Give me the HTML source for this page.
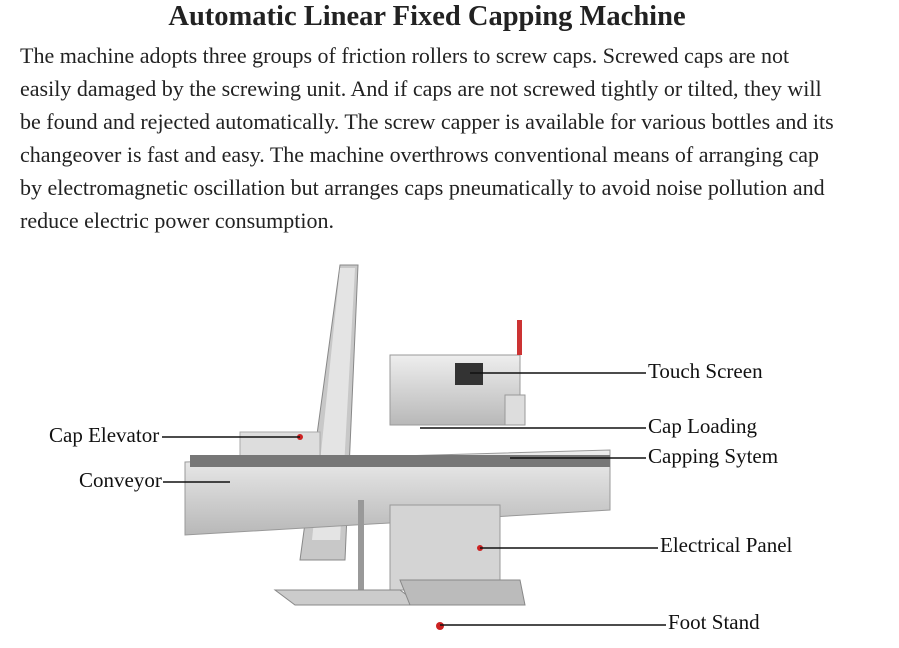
<!DOCTYPE html>
<html><head><meta charset="utf-8"><style>
body{margin:0;width:899px;height:648px;background:#fff;font-family:"Liberation Serif",serif;overflow:hidden;position:relative}
h1{position:absolute;top:0px;left:0;width:854px;text-align:center;margin:0;font-size:28.5px;font-weight:bold;color:#222;line-height:34px}
p{position:absolute;top:39px;left:20px;width:880px;margin:0;font-size:22px;letter-spacing:0;line-height:33px;color:#222;white-space:nowrap}
svg{position:absolute;left:0;top:0}
.l{font-family:"Liberation Serif",serif;font-size:21px;fill:#111}
</style></head><body>
<h1>Automatic Linear Fixed Capping Machine</h1>
<p>The machine adopts three groups of friction rollers to screw caps. Screwed caps are not<br>easily damaged by the screwing unit. And if caps are not screwed tightly or tilted, they will<br>be found and rejected automatically. The screw capper is available for various bottles and its<br>changeover is fast and easy. The machine overthrows conventional means of arranging cap<br>by electromagnetic oscillation but arranges caps pneumatically to avoid noise pollution and<br>reduce electric power consumption.</p>
<svg width="899" height="648">
<defs><linearGradient id="g" x1="0" x2="0" y1="0" y2="1"><stop offset="0" stop-color="#eee"/><stop offset="1" stop-color="#b8b8b8"/></linearGradient></defs>
<polygon points="340,265 358,265 345,560 300,560" fill="#c8c8c8" stroke="#888"/>
<polygon points="340,268 355,268 340,540 312,540" fill="#e4e4e4"/>
<rect x="390" y="355" width="130" height="70" fill="url(#g)" stroke="#999"/>
<rect x="455" y="363" width="28" height="22" fill="#333"/>
<rect x="517" y="320" width="5" height="35" fill="#c33"/>
<rect x="505" y="395" width="20" height="30" fill="#ddd" stroke="#999"/>
<rect x="240" y="432" width="80" height="30" fill="#ddd" stroke="#aaa"/>
<polygon points="185,462 610,450 610,510 185,535" fill="url(#g)" stroke="#999"/>
<rect x="190" y="455" width="420" height="12" fill="#777"/>
<rect x="390" y="505" width="110" height="85" fill="#d4d4d4" stroke="#999"/>
<rect x="358" y="500" width="6" height="100" fill="#999"/>
<polygon points="275,590 400,590 420,605 295,605" fill="#ccc" stroke="#888"/>
<polygon points="400,580 520,580 525,605 410,605" fill="#bbb" stroke="#888"/>
<circle cx="440" cy="626" r="4" fill="#c22"/>
<circle cx="480" cy="548" r="3" fill="#c22"/>
<circle cx="300" cy="437" r="3" fill="#c22"/>
<g stroke="#111" stroke-width="1.6">
<line x1="470" y1="373" x2="646" y2="373"/>
<line x1="420" y1="428" x2="646" y2="428"/>
<line x1="510" y1="458" x2="646" y2="458"/>
<line x1="480" y1="548" x2="658" y2="548"/>
<line x1="440" y1="625" x2="666" y2="625"/>
<line x1="162" y1="437" x2="300" y2="437"/>
<line x1="163" y1="482" x2="230" y2="482"/>
</g>
<text class="l" x="648" y="378">Touch Screen</text>
<text class="l" x="648" y="433">Cap Loading</text>
<text class="l" x="648" y="463">Capping Sytem</text>
<text class="l" x="660" y="552">Electrical Panel</text>
<text class="l" x="668" y="629">Foot Stand</text>
<text class="l" x="49" y="442">Cap Elevator</text>
<text class="l" x="79" y="487">Conveyor</text>
</svg>
</body></html>
